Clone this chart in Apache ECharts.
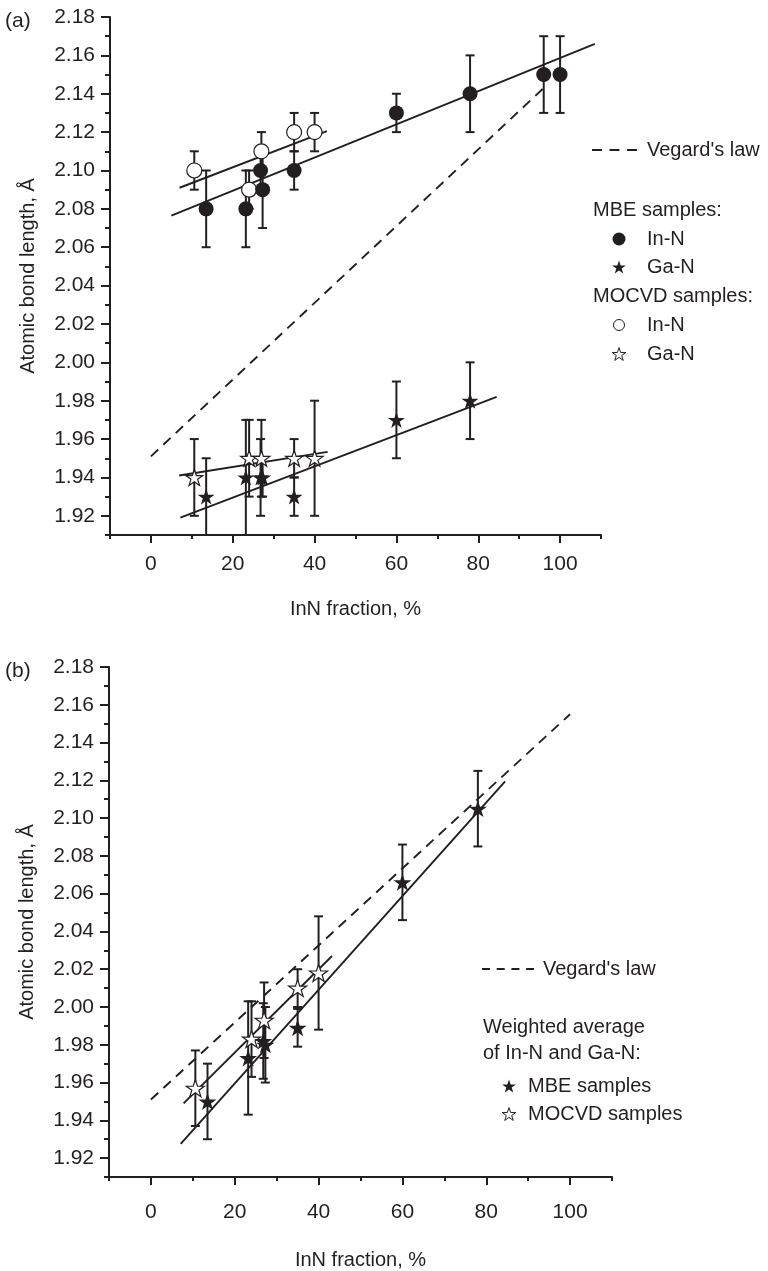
<!DOCTYPE html>
<html><head><meta charset="utf-8">
<script src="https://cdn.jsdelivr.net/npm/echarts@6/dist/echarts.min.js"></script>
<style>html,body{margin:0;padding:0;background:#fff}#chart{width:768px;height:1271px}</style>
</head><body><div id="chart"></div>
<script>
// ---------------- axis ticks ----------------
const xMajorTicks = [0, 20, 40, 60, 80, 100];
const xMinorTicks = [-10, 10, 30, 50, 70, 90, 110];
const yMajorTicks = [1.92, 1.94, 1.96, 1.98, 2.00, 2.02, 2.04, 2.06, 2.08, 2.10, 2.12, 2.14, 2.16, 2.18];
const yMinorTicks = [1.91, 1.93, 1.95, 1.97, 1.99, 2.01, 2.03, 2.05, 2.07, 2.09, 2.11, 2.13, 2.15, 2.17];

// ---------------- panel (a) ----------------
const aMbeInNFrac = [13.5, 23.2, 26.8, 27.3, 35, 60, 78, 96, 100];
const aMbeInNLen  = [2.08, 2.08, 2.10, 2.09, 2.10, 2.13, 2.14, 2.15, 2.15];
const aMbeInNErr  = [0.02, 0.02, 0.01, 0.02, 0.01, 0.01, 0.02, 0.02, 0.02];

const aMocvdInNFrac = [10.6, 24, 27, 35, 40];
const aMocvdInNLen  = [2.10, 2.09, 2.11, 2.12, 2.12];
const aMocvdInNErr  = [0.01, 0.01, 0.01, 0.01, 0.01];

const aMbeGaNFrac = [13.5, 23.2, 26.8, 27.3, 35, 60, 78];
const aMbeGaNLen  = [1.93, 1.94, 1.94, 1.94, 1.93, 1.97, 1.98];
const aMbeGaNErr  = [0.02, 0.03, 0.02, 0.01, 0.01, 0.02, 0.02];

const aMocvdGaNFrac = [10.6, 24, 27, 35, 40];
const aMocvdGaNLen  = [1.94, 1.95, 1.95, 1.95, 1.95];
const aMocvdGaNErr  = [0.02, 0.02, 0.02, 0.01, 0.03];

const aVegardX = [0, 97];      const aVegardY = [1.951, 2.145];
const aFitMbeInNX = [5, 108.5];  const aFitMbeInNY = [2.0765, 2.166];
const aFitMocvdInNX = [7, 43];   const aFitMocvdInNY = [2.091, 2.1205];
const aFitMbeGaNX = [7.2, 84.5]; const aFitMbeGaNY = [1.919, 1.982];
const aFitMocvdGaNX = [6.9, 43.2]; const aFitMocvdGaNY = [1.941, 1.9533];

// ---------------- panel (b) ----------------
const bMbeFrac = [13.5, 23.2, 26.8, 27.3, 35, 60, 78];
const bMbeLen  = [1.950, 1.973, 1.982, 1.980, 1.989, 2.066, 2.105];
const bMbeErr  = [0.02, 0.03, 0.02, 0.02, 0.01, 0.02, 0.02];

const bMocvdFrac = [10.6, 24, 27, 35, 40];
const bMocvdLen  = [1.957, 1.983, 1.993, 2.010, 2.018];
const bMocvdErr  = [0.02, 0.02, 0.02, 0.01, 0.03];

const bVegardX = [0, 100];       const bVegardY = [1.951, 2.155];
const bFitMbeX = [7.1, 84.5];    const bFitMbeY = [1.9275, 2.1195];
const bFitMocvdX = [7.8, 43.2];  const bFitMocvdY = [1.949, 2.027];

// ---------------- helpers ----------------
const INK = '#231f20';
const FONT = '"Liberation Sans", Arial, Helvetica, sans-serif';
const STAR_PTS = [[50,0],[61.8,35.1],[98.9,35.1],[69.1,56.7],[80.3,91.9],[50,70.2],[19.7,91.9],[30.9,56.7],[1.1,35.1],[38.2,35.1]];
const STAR = 'path://M' + STAR_PTS.map(p => p[0] + ',' + p[1]).join(' L') + ' Z';

const zip = (xs, ys) => xs.map((x, i) => [x, ys[i]]);
const zip3 = (xs, ys, es) => xs.map((x, i) => [x, ys[i], es[i]]);

function axesFor(gridIndex, nameGapX, marginX) {
  const xMain = {
    type: 'value', gridIndex, min: -10, max: 110, position: 'bottom',
    splitLine: {show: false},
    axisLine: {show: true, onZero: false, lineStyle: {color: INK, width: 2}},
    axisTick: {show: true, customValues: xMajorTicks, length: 8, inside: false, lineStyle: {color: INK, width: 2}},
    axisLabel: {show: true, customValues: xMajorTicks, margin: marginX, color: INK, fontSize: 21, fontFamily: FONT},
    name: 'InN fraction, %', nameLocation: 'middle', nameGap: nameGapX,
    nameTextStyle: {color: INK, fontSize: 20, fontFamily: FONT}
  };
  const xMinor = {
    type: 'value', gridIndex, min: -10, max: 110, position: 'bottom',
    splitLine: {show: false}, axisLine: {show: false, onZero: false},
    axisTick: {show: true, customValues: xMinorTicks, length: 4, lineStyle: {color: INK, width: 2}},
    axisLabel: {show: false}
  };
  const yMain = {
    type: 'value', gridIndex, min: 1.91, max: 2.18, position: 'left',
    splitLine: {show: false},
    axisLine: {show: true, onZero: false, lineStyle: {color: INK, width: 2}},
    axisTick: {show: true, customValues: yMajorTicks, length: 9, lineStyle: {color: INK, width: 2}},
    axisLabel: {show: true, customValues: yMajorTicks, margin: 15, color: INK, fontSize: 21, fontFamily: FONT,
      formatter: v => v.toFixed(2)},
    name: 'Atomic bond length, Å', nameLocation: 'middle', nameGap: 72, nameRotate: 90,
    nameTextStyle: {color: INK, fontSize: 20, fontFamily: FONT}
  };
  const yMinor = {
    type: 'value', gridIndex, min: 1.91, max: 2.18, position: 'left',
    splitLine: {show: false}, axisLine: {show: false, onZero: false},
    axisTick: {show: true, customValues: yMinorTicks, length: 5, lineStyle: {color: INK, width: 2}},
    axisLabel: {show: false}
  };
  return {x: [xMain, xMinor], y: [yMain, yMinor]};
}

const A = axesFor(0, 64, 19);
const B = axesFor(1, 73, 25);

function lineSeries(xi, xs, ys, dashed) {
  return {
    type: 'line', xAxisIndex: xi, yAxisIndex: xi, data: zip(xs, ys),
    showSymbol: false, symbol: 'none', silent: true, z: 2,
    lineStyle: {color: INK, width: 1.9, opacity: 1, type: dashed ? [10, 7] : 'solid'}
  };
}

function errSeries(xi, xs, ys, es) {
  return {
    type: 'custom', xAxisIndex: xi, yAxisIndex: xi, data: zip3(xs, ys, es), z: 3, silent: true,
    clip: true,
    renderItem: function (params, api) {
      const x = api.value(0), y = api.value(1), e = api.value(2);
      const hi = api.coord([x, y + e]);
      const lo = api.coord([x, y - e]);
      const w = 4.5;
      const st = {stroke: INK, lineWidth: 2};
      return {
        type: 'group',
        children: [
          {type: 'line', shape: {x1: hi[0], y1: hi[1], x2: lo[0], y2: lo[1]}, style: st},
          {type: 'line', shape: {x1: hi[0] - w, y1: hi[1], x2: hi[0] + w, y2: hi[1]}, style: st},
          {type: 'line', shape: {x1: lo[0] - w, y1: lo[1], x2: lo[0] + w, y2: lo[1]}, style: st}
        ]
      };
    }
  };
}

function scatterSeries(xi, xs, ys, symbol, filled, size) {
  return {
    type: 'scatter', xAxisIndex: xi, yAxisIndex: xi, data: zip(xs, ys), z: 5, silent: true,
    symbol: symbol, symbolSize: size, symbolKeepAspect: true,
    itemStyle: {color: filled ? INK : '#ffffff', borderColor: INK, borderWidth: filled ? 0 : 1.2, opacity: 1}
  };
}

const series = [
  lineSeries(0, aVegardX, aVegardY, true),
  lineSeries(0, aFitMbeInNX, aFitMbeInNY, false),
  lineSeries(0, aFitMocvdInNX, aFitMocvdInNY, false),
  lineSeries(0, aFitMbeGaNX, aFitMbeGaNY, false),
  lineSeries(0, aFitMocvdGaNX, aFitMocvdGaNY, false),
  errSeries(0, aMbeInNFrac, aMbeInNLen, aMbeInNErr),
  errSeries(0, aMocvdInNFrac, aMocvdInNLen, aMocvdInNErr),
  errSeries(0, aMbeGaNFrac, aMbeGaNLen, aMbeGaNErr),
  errSeries(0, aMocvdGaNFrac, aMocvdGaNLen, aMocvdGaNErr),
  scatterSeries(0, aMocvdInNFrac, aMocvdInNLen, 'circle', false, 15),
  scatterSeries(0, aMbeInNFrac, aMbeInNLen, 'circle', true, 15),
  scatterSeries(0, aMocvdGaNFrac, aMocvdGaNLen, STAR, false, 17),
  scatterSeries(0, aMbeGaNFrac, aMbeGaNLen, STAR, true, 17),
  lineSeries(2, bVegardX, bVegardY, true),
  lineSeries(2, bFitMbeX, bFitMbeY, false),
  lineSeries(2, bFitMocvdX, bFitMocvdY, false),
  errSeries(2, bMbeFrac, bMbeLen, bMbeErr),
  errSeries(2, bMocvdFrac, bMocvdLen, bMocvdErr),
  scatterSeries(2, bMocvdFrac, bMocvdLen, STAR, false, 18),
  scatterSeries(2, bMbeFrac, bMbeLen, STAR, true, 18)
];

function txt(x, y, s, size) {
  return {type: 'text', x: x, y: y, silent: true,
    style: {text: s, fill: INK, font: (size || 20) + 'px ' + FONT, verticalAlign: 'middle'}};
}
function dash(x1, x2, y, pat) {
  return {type: 'line', silent: true, shape: {x1: x1, y1: y, x2: x2, y2: y},
    style: {stroke: INK, lineWidth: 1.8, lineDash: pat}};
}
function dot(cx, cy, r, filled) {
  return {type: 'circle', silent: true, shape: {cx: cx, cy: cy, r: r},
    style: {fill: filled ? INK : '#fff', stroke: INK, lineWidth: filled ? 0 : 1}};
}
function star(cx, cy, s, filled) {
  const pts = STAR_PTS.map(p => [cx + (p[0] - 50) / 100 * s, cy + (p[1] - 46) / 100 * s]);
  return {type: 'polygon', silent: true, shape: {points: pts},
    style: {fill: filled ? INK : '#fff', stroke: INK, lineWidth: filled ? 0 : 1}};
}

const graphic = [
  txt(5, 21, '(a)', 21),
  txt(5, 671, '(b)', 21),
  dash(592, 637, 150, [10, 7.5]), txt(647, 150, "Vegard's law"),
  txt(593, 210, 'MBE samples:'),
  dot(619, 239, 6.5, true), txt(647, 239, 'In-N'),
  star(619, 267, 14, true), txt(647, 267, 'Ga-N'),
  txt(593, 296, 'MOCVD samples:'),
  dot(619, 325, 5.5, false), txt(647, 325, 'In-N'),
  star(619, 354, 14, false), txt(647, 354, 'Ga-N'),
  dash(482, 534, 969, [8, 6.7]), txt(543, 969, "Vegard's law"),
  txt(483, 1027, 'Weighted average'),
  txt(483, 1053, 'of In-N and Ga-N:'),
  star(509, 1086, 14, true), txt(528, 1086, 'MBE samples'),
  star(509, 1114, 14, false), txt(528, 1114, 'MOCVD samples')
];

const chart = echarts.init(document.getElementById('chart'), null, {renderer: 'canvas'});
chart.setOption({
  animation: false,
  backgroundColor: '#ffffff',
  textStyle: {fontFamily: FONT},
  grid: [
    {left: 110, top: 17, width: 491, height: 518},
    {left: 109, top: 667, width: 503, height: 518}
  ],
  xAxis: [A.x[0], A.x[1], B.x[0], B.x[1]],
  yAxis: [A.y[0], A.y[1], B.y[0], B.y[1]],
  series: series,
  graphic: graphic
});
</script>
</body></html>
